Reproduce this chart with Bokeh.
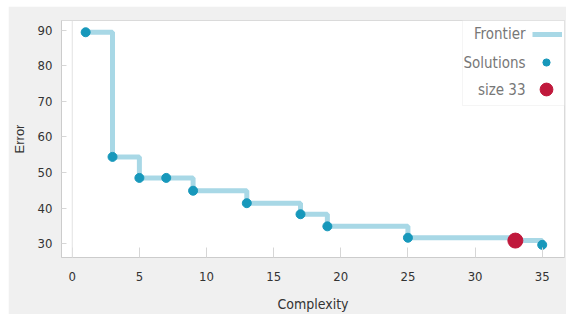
from bokeh.plotting import figure
from bokeh.models import (Range1d, FixedTicker, Span, Legend, LegendItem,
                          Label, BoxAnnotation)
from bokeh.embed import file_html
from bokeh.resources import INLINE

# ---- data ----
complexity = [1, 3, 5, 7, 9, 13, 17, 19, 25, 33, 35]
error = [89.4, 54.4, 48.5, 48.5, 44.9, 41.4, 38.3, 34.9, 31.7, 30.9, 29.7]
selected_complexity = [33]
selected_error = [30.9]
x_ticks = [0, 5, 10, 15, 20, 25, 30, 35]
y_ticks = [30, 40, 50, 60, 70, 80, 90]
legend_labels = ["Frontier", "Solutions", "size 33"]

NARROW = "DejaVu Sans Condensed"
REGULAR = "Liberation Sans"
LINE_C = "#9fd4e3"
DOT_C = "#1798bb"
RED_C = "#c0193c"

p = figure(width=558, height=308, output_backend="svg", toolbar_location=None,
           x_range=Range1d(-0.8, 36.66), y_range=Range1d(26.15, 92.7),
           min_border_left=53, min_border_right=2, min_border_top=14,
           min_border_bottom=57)
p.margin = (6, 0, 0, 8)
p.border_fill_color = "#f0f0f0"
p.background_fill_color = "white"
p.outline_line_color = "#dadada"
p.grid.visible = False

# axes
p.xaxis.ticker = FixedTicker(ticks=x_ticks)
p.yaxis.ticker = FixedTicker(ticks=y_ticks)
p.xaxis.axis_label = "Complexity"
p.yaxis.axis_label = "Error"
for ax in (p.xaxis[0], p.yaxis[0]):
    ax.axis_line_color = "#cccccc"
    ax.major_tick_line_color = "#d6d6d6"
    ax.minor_tick_line_color = None
    ax.major_tick_out = 0
    ax.major_label_text_color = "#333333"
    ax.major_label_text_font = NARROW
    ax.major_label_text_font_size = "13px"
    ax.axis_label_text_color = "#333333"
    ax.axis_label_text_font_style = "normal"
    ax.axis_label_text_font_size = "14px"
p.xaxis.major_tick_in = 10
p.yaxis.major_tick_in = 5
p.xaxis.major_label_standoff = 14
p.yaxis.major_label_standoff = 9
p.xaxis.axis_label_text_font = NARROW
p.xaxis.axis_label_standoff = 12
p.yaxis.axis_label_text_font = REGULAR
p.yaxis.axis_label_text_font_size = "13px"
p.yaxis.axis_label_standoff = 8

p.add_layout(Span(location=0, dimension="height", line_color="#e2e2e2", line_width=1))

# data glyphs
frontier = p.step(complexity, error, mode="after", line_color=LINE_C,
                  line_width=5, line_alpha=0.9)
dots = p.scatter(complexity, error, size=9, fill_color=DOT_C, line_color=DOT_C)
red = p.scatter(selected_complexity, selected_error, size=15,
                fill_color=RED_C, line_color=RED_C)

# legend box (text on the left, key glyph on the right)
p.add_layout(BoxAnnotation(left=401, bottom=152, left_units="screen",
                           bottom_units="screen", fill_color="white",
                           fill_alpha=1, line_color="#dddddd", line_width=1))

rows = [(frontier, 213, 30, 20, 471, 224),
        (dots, 186, 30, 18, 470, 195),
        (red, 152, 32, 32, 469, 168)]
for (rend, vy, gw, gh, vx, ty), lab in zip(rows, legend_labels):
    lg = Legend(items=[LegendItem(label=" ", renderers=[rend])],
                location=(vx, vy), glyph_width=gw, glyph_height=gh,
                padding=0, margin=0, spacing=0, label_standoff=0,
                label_width=0, label_height=0, label_text_font_size="1px",
                border_line_color=None, background_fill_alpha=0)
    p.add_layout(lg)
    p.add_layout(Label(x=464, y=ty, x_units="screen", y_units="screen",
                       text=lab, text_align="right", text_baseline="middle",
                       text_font=NARROW, text_font_size="15px",
                       text_color="#777777"))

open("out.html", "w").write(file_html(p, INLINE))
